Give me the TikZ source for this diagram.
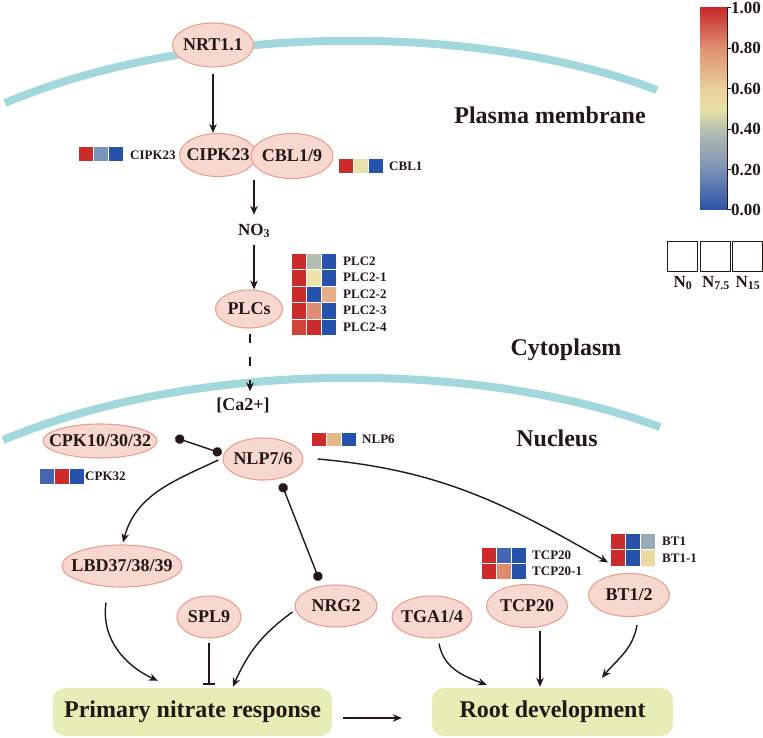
\documentclass[tikz,border=0pt]{standalone}
\usepackage{fontspec}
\setmainfont{Liberation Serif}
\usetikzlibrary{arrows.meta,calc,shapes.geometric}
\definecolor{ink}{HTML}{231815}
\definecolor{memb}{HTML}{A2D8DC}
\definecolor{genefill}{HTML}{F6D8D0}
\definecolor{genedraw}{HTML}{E9A090}
\definecolor{respfill}{HTML}{E6EDB5}
\definecolor{hr}{HTML}{CC2B2B}
\definecolor{hr2}{HTML}{D2443A}
\definecolor{hb}{HTML}{2752AC}
\definecolor{cgb}{HTML}{7B93BB}
\definecolor{cpy}{HTML}{E6E2AA}
\definecolor{cgg}{HTML}{B3BDB2}
\definecolor{cpy2}{HTML}{EDE2A8}
\definecolor{clo}{HTML}{E8AE88}
\definecolor{csal}{HTML}{E08C70}
\definecolor{cmb}{HTML}{4466B2}
\definecolor{ctan}{HTML}{E2B888}
\definecolor{csal2}{HTML}{E08A6C}
\definecolor{cgb2}{HTML}{9AAAB4}
\definecolor{cpy3}{HTML}{EADAA2}
\definecolor{cb0}{HTML}{2A52A8}
\definecolor{cb2}{HTML}{7A90B4}
\definecolor{cb4}{HTML}{B6C0B0}
\definecolor{cb5}{HTML}{E8E2A4}
\definecolor{cb6}{HTML}{EAD09A}
\definecolor{cb8}{HTML}{E09070}
\definecolor{cb10}{HTML}{C82A2A}
\pgfdeclareverticalshading{cbarshade}{100bp}{color(0bp)=(cb0); color(25bp)=(cb0); color(35bp)=(cb2); color(45bp)=(cb4); color(50bp)=(cb5); color(55bp)=(cb6); color(65bp)=(cb8); color(75bp)=(cb10); color(100bp)=(cb10)}
\newcommand\zt[1]{\makebox[0pt]{#1}}
\newcommand\hmrow[6]{%
  \filldraw[hm,fill=#4] (#1,#2) rectangle ++(15,-#3);
  \filldraw[hm,fill=#5] (#1+15,#2) rectangle ++(15,-#3);
  \filldraw[hm,fill=#6] (#1+30,#2) rectangle ++(15,-#3);}
\begin{document}
\begin{tikzpicture}[x=1pt,y=1pt,line join=round,
  gene/.style={ellipse, draw=genedraw, fill=genefill, line width=1.1pt, inner sep=0pt,
    font=\fontsize{18}{20}\selectfont\bfseries, text=ink},
  arr/.style={draw=ink, line width=1.4pt, -{Stealth[length=9pt,width=7.5pt]}},
  dasharr/.style={arr, dash pattern=on 9pt off 14pt},
  inh/.style={draw=ink, line width=1.4pt, -{Bar[width=12pt]}},
  dotline/.style={draw=ink, line width=1.4pt, {Circle[length=9.5pt]}-{Circle[length=9.5pt]}},
  membrane/.style={draw=memb, line width=8pt},
  resp/.style={rounded corners=12pt, fill=respfill, inner sep=0pt,
    font=\fontsize{24}{28}\selectfont\bfseries, text=ink},
  hm/.style={draw=white, line width=0.7pt},
  lbl/.style={anchor=west, inner sep=0pt, font=\fontsize{13}{15}\selectfont\bfseries, text=ink},
  region/.style={inner sep=0pt, font=\fontsize{24}{28}\selectfont\bfseries, text=ink},
  plain/.style={inner sep=0pt, font=\fontsize{18}{20}\selectfont\bfseries, text=ink},
  legend/.style={inner sep=0pt, font=\fontsize{17}{19}\selectfont\bfseries, text=ink}
]
\useasboundingbox (0,0) rectangle (763,737);

% membranes
\draw[membrane] (5,634) .. controls (190,712) and (470,717) .. (657,647);
\draw[membrane] (3,297) .. controls (190,375) and (470,380) .. (660,310);

% region labels
\node[region] (pm) at (550,622) {Plasma membrane};
\node[region] (cyto) at (566,387) {Cytoplasm};
\node[region] (nuc) at (557,299) {Nucleus};

% genes
\node[gene, minimum width=81pt, minimum height=44pt] (nrt) at (213,692) {\zt{NRT1.1}};
\node[gene, minimum width=77pt, minimum height=43pt] (cipk) at (218,582) {\zt{CIPK23}};
\node[gene, minimum width=82pt, minimum height=45pt] (cbl) at (292,581) {\zt{CBL1/9}};
\node[plain, font=\fontsize{17}{19}\selectfont\bfseries] (no3) at (254,506) {NO\textsubscript{3}};
\node[gene, minimum width=67pt, minimum height=38pt] (plcs) at (249,428) {\zt{PLCs}};
\node[plain] (ca) at (243,332) {[Ca2+]};
\node[gene, minimum width=114pt, minimum height=34pt] (cpk) at (100,296) {\zt{CPK10/30/32}};
\node[gene, minimum width=80pt, minimum height=42pt] (nlp) at (263,278) {\zt{NLP7/6}};
\node[gene, minimum width=120pt, minimum height=42pt] (lbd) at (122,171) {\zt{LBD37/38/39}};
\node[gene, minimum width=64pt, minimum height=42pt] (spl) at (209,120) {\zt{SPL9}};
\node[gene, minimum width=82pt, minimum height=42pt] (nrg) at (336,131) {\zt{NRG2}};
\node[gene, minimum width=80pt, minimum height=42pt] (tga) at (432,120) {\zt{TGA1/4}};
\node[gene, minimum width=81pt, minimum height=43pt] (tcp) at (527,131) {\zt{TCP20}};
\node[gene, minimum width=81pt, minimum height=43pt] (bt) at (629,142) {\zt{BT1/2}};

% response boxes
\node[resp, minimum width=279pt, minimum height=48pt] (pnr) at (192.5,25) {Primary nitrate response};
\node[resp, minimum width=241pt, minimum height=48pt] (root) at (552.5,25) {Root development};

% connectors
\draw[arr] ($(nrt.south)+(0,-6)$) -- (nrt.south |- cipk.north);
\draw[arr] ($(no3.north |- cbl.south)+(0,-1)$) -- ($(no3.north)+(0,9)$);
\draw[arr] ($(no3.south)+(0,-7)$) -- (no3.south |- plcs.north);
\draw[dasharr] ($(plcs.south)+(1,-5)$) -- ($(plcs.south |- ca.north)+(1,6)$);
\draw[dotline] ($(cpk.east)+(17.7,3.4)$) -- ($(nlp.west)+(-0.7,5.6)$);
\draw[dotline] ($(nlp.south)+(18.4,-2.8)$) -- ($(nrg.north)+(-16.4,3.8)$);
\draw[arr] ($(nlp.west)+(-4,-1)$) to[out=205,in=75] ($(lbd.north)+(1,2)$);
\draw[arr] ($(lbd.south)+(-16,-15)$) to[out=-98,in=155] ($(pnr.north west)+(105,7)$);
\draw[inh] ($(spl.south)+(0,-4)$) -- ($(spl.south |- pnr.north)+(0,3)$);
\draw[arr] ($(nrg.west)+(-2,-6)$) to[out=216,in=66] ($(pnr.north west)+(180,1)$);
\draw[arr] ($(nlp.east)+(14,0)$) to[out=-5,in=150] ($(bt.north)+(-21,10.5)$);
\draw[arr] ($(tga.south)+(7,-5)$) to[out=-80,in=160] ($(root.north west)+(55,3)$);
\draw[arr] ($(tcp.south)+(13,-3)$) -- ($(tcp.south |- root.north)+(13,1)$);
\draw[arr] ($(bt.south)+(8,-8)$) to[out=-100,in=50] ($(root.north west)+(170,10)$);
\draw[arr] ($(pnr.east)+(11,-6)$) -- ($(root.west)+(-30,-6)$);

% heat maps
\hmrow{78}{591}{15}{hr}{cgb}{hb}
\node[lbl] (lcipk) at (130,582) {CIPK23};
\hmrow{338}{579}{15}{hr}{cpy}{hb}
\node[lbl] (lcbl) at (389,571) {CBL1};
\hmrow{291}{484}{16.5}{hr}{cgg}{hb}
\hmrow{291}{467.5}{16.5}{hr}{cpy2}{hb}
\hmrow{291}{451}{16.5}{hr}{hb}{clo}
\hmrow{291}{434.5}{16.5}{hr}{csal}{hb}
\hmrow{291}{418}{16.5}{hr2}{hr}{hb}
\node[lbl] (lplc0) at (343,475.75) {PLC2};
\node[lbl] (lplc1) at (343,459.25) {PLC2-1};
\node[lbl] (lplc2) at (343,442.75) {PLC2-2};
\node[lbl] (lplc3) at (343,426.25) {PLC2-3};
\node[lbl] (lplc4) at (343,409.75) {PLC2-4};
\hmrow{39}{269}{16}{cmb}{hr}{hb}
\node[lbl] (lcpk) at (85,261) {CPK32};
\hmrow{311}{305}{14}{hr}{ctan}{hb}
\node[lbl] (lnlp) at (362,298) {NLP6};
\hmrow{481}{190}{16}{hr}{cmb}{hb}
\hmrow{481}{174}{16}{hr}{csal2}{hb}
\node[lbl] (ltcp0) at (532,182) {TCP20};
\node[lbl] (ltcp1) at (532,166) {TCP20-1};
\hmrow{610}{204}{16.5}{hr}{hb}{cgb2}
\hmrow{610}{187.5}{16.5}{hr}{hb}{cpy3}
\node[lbl] (lbt0) at (662,196) {BT1};
\node[lbl] (lbt1) at (662,179) {BT1-1};

% colour bar
\shade[shading=cbarshade] (700,527) rectangle (727,729);
\draw[ink, line width=1pt] (727,527) -- (727,729);
\foreach \v/\yy in {0.00/527,0.20/567.4,0.40/607.8,0.60/648.2,0.80/688.6,1.00/729}{
  \draw[ink, line width=1pt] (727,\yy) -- (731,\yy);
  \node[legend, anchor=west] at (731,\yy) {\v};
}

% condition legend
\draw[ink, line width=1pt] (667,495) rectangle (697,465);
\draw[ink, line width=1pt] (700,495) rectangle (730,465);
\draw[ink, line width=1pt] (732.5,495) rectangle (762.5,465);
\node[legend] (n0) at (683,454) {N\textsubscript{0}};
\node[legend] (n75) at (716,454) {N\textsubscript{7.5}};
\node[legend] (n15) at (748,454) {N\textsubscript{15}};
\end{tikzpicture}
\end{document}
